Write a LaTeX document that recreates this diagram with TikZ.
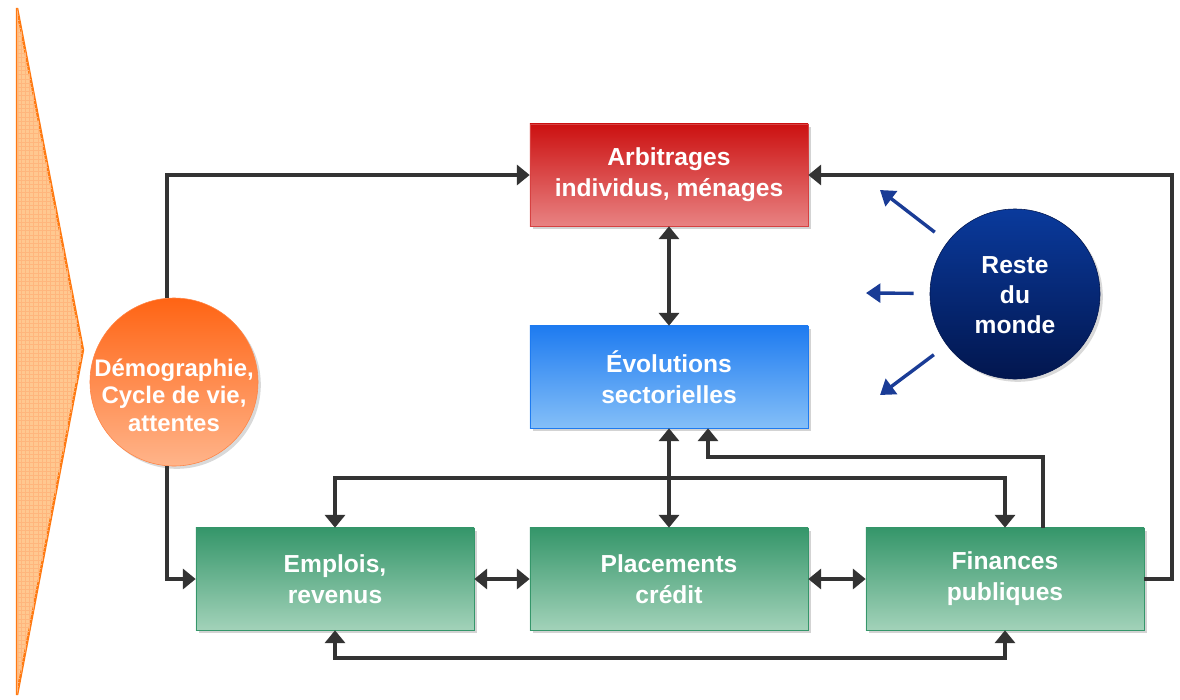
\documentclass[tikz,border=0pt]{standalone}
\usepackage{fontspec}
\setmainfont{Liberation Sans}
\usetikzlibrary{arrows.meta,shadows,patterns}
\definecolor{linegray}{HTML}{333333}
\definecolor{worldblue}{HTML}{1A3C96}
\definecolor{arbtop}{HTML}{CC1111}
\definecolor{arbbot}{HTML}{E88282}
\definecolor{evotop}{HTML}{1E7BF0}
\definecolor{evobot}{HTML}{84BFF8}
\definecolor{grntop}{HTML}{35966A}
\definecolor{grnbot}{HTML}{A2D2B9}
\definecolor{demtop}{HTML}{FF6414}
\definecolor{dembot}{HTML}{FFB48A}
\definecolor{rdmtop}{HTML}{0A3A9C}
\definecolor{rdmbot}{HTML}{02164E}
\definecolor{wedgefill}{HTML}{FFC890}
\definecolor{wedgeline}{HTML}{FF7A12}
\begin{document}
\begin{tikzpicture}[x=0.025cm,y=-0.025cm,
  box/.style={draw,rectangle,minimum width=6.95cm,minimum height=2.55cm,
    align=center,text=white,font=\fontsize{17.5}{22}\selectfont\bfseries,
    drop shadow={shadow xshift=0.07cm,shadow yshift=-0.07cm,opacity=0.35}},
  ball/.style={draw,circle,align=center,text=white,inner sep=0pt,
    drop shadow={shadow xshift=0.07cm,shadow yshift=-0.07cm,opacity=0.3}},
  conn/.style={linegray,line width=0.095cm,
    arrows={-Triangle[width=0.5cm,length=0.32cm]}},
  both/.style={conn,arrows={Triangle[width=0.5cm,length=0.32cm]-Triangle[width=0.5cm,length=0.32cm]}},
  world/.style={worldblue,line width=0.085cm,shorten <=0.4cm,
    arrows={-Triangle[width=0.47cm,length=0.36cm]}}]
\useasboundingbox (0,0) rectangle (1180,699);

% left wedge
\filldraw[fill=wedgefill,draw=wedgeline,line width=0.06cm] (17,8) -- (83,350) -- (17,695) -- cycle;
\fill[pattern=grid,pattern color=wedgeline!55] (17,8) -- (83,350) -- (17,695) -- cycle;

% boxes
\node[box,draw=arbtop!80,top color=arbtop,bottom color=arbbot] (arb) at (669,175) {Arbitrages\\individus, ménages};
\node[box,draw=evotop,top color=evotop,bottom color=evobot] (evo) at (669,377) {Évolutions\\sectorielles};
\node[box,draw=grntop,top color=grntop,bottom color=grnbot] (emp) at (335,579) {Emplois,\\revenus};
\node[box,draw=grntop,top color=grntop,bottom color=grnbot] (plc) at (669,579) {Placements\\crédit};
\node[box,draw=grntop,top color=grntop,bottom color=grnbot] (fin) at (1005,579) {Finances\\publiques};

% circles
\node[ball,draw=demtop!80,top color=demtop,bottom color=dembot,minimum size=4.2cm,
  font=\fontsize{17}{19.8}\selectfont\bfseries] (demo) at (174,382)
  {\raisebox{-0.56cm}[0pt][0pt]{\makebox[0pt]{\begin{tabular}{@{}c@{}}Démographie,\\Cycle de vie,\\attentes\end{tabular}}}};
\node[ball,draw=rdmbot,top color=rdmtop,bottom color=rdmbot,minimum size=4.25cm,
  font=\fontsize{17.5}{21.3}\selectfont\bfseries] (rdm) at (1015,294)
  {\raisebox{-0.23cm}[0pt][0pt]{\makebox[0pt]{\begin{tabular}{@{}c@{}}Reste\\du\\monde\end{tabular}}}};

% links
\draw[conn] (demo.95) |- (arb.west);
\draw[conn] (demo.265) |- (emp.west);
\draw[both] (arb.south) -- (evo.north);
\draw[both] (emp.north) -- ++(0,-50) -| (fin.north);
\draw[both] (evo.south) -- (plc.north);
\draw[conn] ([xshift=0.95cm]fin.north) -- ++(0,-71) -| ([xshift=0.975cm]evo.south);
\draw[both] (emp.east) -- (plc.west);
\draw[both] (plc.east) -- (fin.west);
\draw[both] (emp.south) -- ++(0,28) -| (fin.south);
\draw[conn] (fin.east) -- ++(28,0) |- (arb.east);

% rest of the world
\coordinate (w1) at (880,190);
\coordinate (w2) at (866,293);
\coordinate (w3) at (880,395);
\draw[world] (rdm) -- (w1);
\draw[world] (rdm) -- (w2);
\draw[world] (rdm) -- (w3);
\end{tikzpicture}
\end{document}
